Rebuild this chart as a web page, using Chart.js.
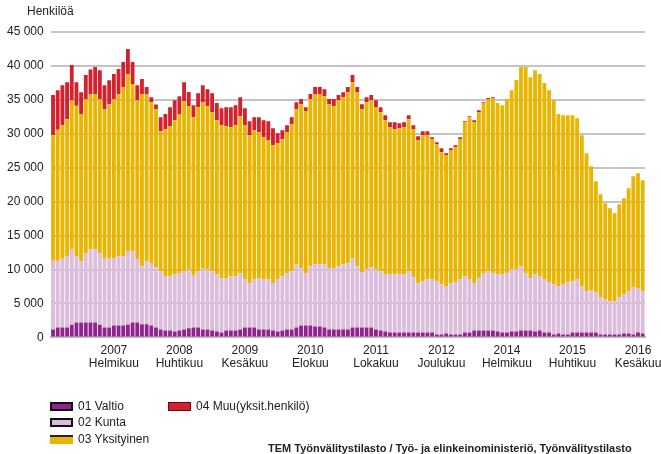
<!DOCTYPE html>
<html>
<head>
<meta charset="utf-8">
<script src="https://cdn.jsdelivr.net/npm/chart.js@4.4.1/dist/chart.umd.min.js"></script>
<style>
  body { margin: 0; background: #fff; font-family: "Liberation Sans", Arial, sans-serif; color: #222; }
  #wrap { position: relative; width: 661px; height: 454px; }
  #myChart { position: absolute; left: 0; top: 0; }
  .unit { position: absolute; left: 27px; top: 4px; font-size: 12px; }
  .leg { position: absolute; font-size: 12px; line-height: 14px; white-space: nowrap; }
  .leg i { display: inline-block; box-sizing: border-box; width: 23px; height: 9px; vertical-align: -1px; margin-right: 5px; }
  .source { position: absolute; left: 268px; top: 442px; font-size: 11px; font-weight: bold; white-space: nowrap; }
</style>
</head>
<body>
<div id="wrap">
  <canvas id="myChart" width="661" height="454"></canvas>
  <div class="unit">Henkilöä</div>
  <div class="leg" style="left:50px;top:399px"><i style="background:#8e248c;border:2px solid #111"></i>01 Valtio</div>
  <div class="leg" style="left:50px;top:415px"><i style="background:#dcbddc;border:2px solid #111"></i>02 Kunta</div>
  <div class="leg" style="left:50px;top:432px"><i style="background:#e9b500;border-top:2px solid #222"></i>03 Yksityinen</div>
  <div class="leg" style="left:168px;top:399px"><i style="background:#d3212d;border:1.5px solid #5a1010"></i>04 Muu(yksit.henkilö)</div>
  <div class="source">TEM Työnvälitystilasto / Työ- ja elinkeinoministeriö, Työnvälitystilasto</div>
</div>
<script>
// Kuukaudet tammikuu 2006 - heinäkuu 2016
const startYear = 2006;
const monthCount = 127;
const categories = [];
for (let i = 0; i < monthCount; i++) {
  categories.push((startYear + Math.floor(i / 12)) + '-' + String(i % 12 + 1).padStart(2, '0'));
}

// x-akselin tekstit
const tickIndex = [13, 27, 41, 55, 69, 83, 97, 111, 125];
const tickYears = ['2007', '2008', '2009', '2010', '2011', '2012', '2014', '2015', '2016'];
const tickMonths = ['Helmikuu', 'Huhtikuu', 'Kesäkuu', 'Elokuu', 'Lokakuu', 'Joulukuu', 'Helmikuu', 'Huhtikuu', 'Kesäkuu'];

// y-akseli
const yMax = 45000;
const yStep = 5000;

// Sarjat (henkilöä)
const valtio = [
  1180, 1475, 1475, 1475, 1870, 2210, 2210, 2210, 2210, 2210, 1870, 1475, 1475, 1770, 1770, 1770, 1870, 2210, 2210, 1920, 1920, 1770, 1475, 1180, 1030, 1030, 885, 1030, 1180, 1330,
  1475, 1475, 1180, 1180, 1030, 885, 740, 1030, 1030, 1030,
  1180, 1475, 1475, 1475, 1180, 1180, 1180, 1030, 885, 1030,
  1180, 1180, 1475, 1770, 1770, 1770, 1620, 1620, 1475, 1180,
  1180, 1180, 1180, 1180, 1475, 1475, 1475, 1475, 1475, 1180,
  1030, 885, 740, 740, 740, 740, 740, 740, 740, 740,
  740, 740, 440, 440, 590, 440, 440, 440, 740, 740,
  1030, 1030, 1030, 1030, 1030, 885, 740, 740, 885, 885,
  1030, 1030, 1030, 885, 1030, 740, 740, 440, 590, 440,
  440, 740, 740, 740, 740, 740, 740, 440, 440, 440,
  440, 440, 590, 590, 440, 740, 590
];
const kunta = [
  10120, 9825, 10125, 10475, 11110, 9740, 9000, 10180, 10770, 10770, 10520, 10125, 10175, 9880, 10180, 10180, 10820, 10480, 9290, 8550, 9290, 9150, 8855, 8555, 7970, 7970, 8405, 8410, 8555, 8670,
  7625, 8260, 8950, 8850, 8705, 8405, 7960, 7670, 7970, 7970,
  8260, 7085, 6490, 7085, 7520, 7380, 7380, 6935, 7675, 7970,
  8260, 8555, 9295, 8410, 7670, 8700, 9150, 9150, 9295, 9000,
  9000, 9290, 9590, 9740, 10175, 8995, 8115, 8555, 8855, 8850,
  8705, 8405, 8550, 8550, 8550, 8550, 8995, 8110, 7225, 7520,
  7820, 7820, 7820, 7380, 6935, 7525, 7670, 8120, 8260, 7820,
  6935, 7670, 8410, 8705, 8410, 8405, 8550, 8700, 9145, 9145,
  9440, 8410, 7670, 8405, 7970, 7820, 7370, 7380, 6935, 7380,
  7670, 7520, 7820, 6785, 6050, 6190, 5900, 5460, 5160, 4870,
  4870, 5460, 5750, 6200, 6940, 6490, 6200
];
const yksityinen = [
  18500, 19280, 19670, 20210, 21980, 22170, 21690, 22710, 22870, 22870, 22710, 22030, 22720, 23450, 23900, 24930, 26110, 24630, 23460, 25380, 24640, 23740, 23300, 20655, 21680, 22120, 22720, 23460, 25075, 24100,
  23350, 24195, 24530, 24040, 23455, 22720, 22570, 22420, 21980, 22270,
  23160, 22710, 21835, 21970, 21540, 20940, 20500, 20355, 20060, 20210,
  20800, 21685, 22860, 24190, 23900, 24640, 25080, 25080, 24780, 24190,
  23890, 24490, 24630, 25220, 25970, 25670, 24040, 24630, 24630, 23900,
  23455, 22720, 21690, 21390, 21540, 21690, 22425, 21830, 21095, 21540,
  21240, 20650, 20210, 19470, 19325, 19625, 19920, 20650, 22710, 23890,
  23745, 24490, 25080, 25375, 25820, 25230, 24930, 25670, 26400, 27880,
  29360, 30390, 29650, 30090, 29800, 28910, 28320, 27140, 25375, 24930,
  24640, 24490, 23740, 22275, 20350, 18290, 16370, 15190, 14170, 13720,
  12980, 13720, 14160, 15190, 16370, 16960, 16370
];
const muu = [
  5900, 5850, 5900, 5440, 5160, 3480, 3240, 3550, 3630, 3980, 4280, 3540, 3530, 3700, 3680, 3690, 3680, 3250, 2210, 2210, 1030, 740, 690, 2060, 2220, 2810, 2950, 2650, 2790, 2060,
  1770, 2060, 2510, 2510, 2800, 2510, 2510, 2810, 2950, 2950,
  2800, 2510, 2060, 1920, 2210, 2510, 2800, 2510, 1470, 1320,
  1030, 1030, 1030, 740, 590, 740, 1030, 1030, 1030, 740,
  1040, 740, 740, 740, 1030, 740, 740, 740, 740, 1030,
  740, 740, 730, 1030, 740, 730, 590, 590, 590, 590,
  590, 290, 290, 590, 290, 290, 290, 290, 150, 150,
  300, 290, 140, 150, 140, 0, 0, 0, 0, 0,
  0, 0, 0, 0, 0, 0, 0, 0, 0, 0,
  0, 0, 0, 0, 0, 0, 0, 0, 0, 0,
  0, 0, 0, 0, 0, 0, 0
];

const FONT = "'Liberation Sans', Arial, sans-serif";

function barSet(label, data, color) {
  return {
    label,
    data,
    backgroundColor: color,
    borderWidth: 0,
    barPercentage: 1,
    categoryPercentage: 0.82
  };
}

const ctx = document.getElementById('myChart').getContext('2d');
const chart = new Chart(ctx, {
  type: 'bar',
  data: {
    labels: categories,
    datasets: [
      barSet('01 Valtio', valtio, '#8e248c'),
      barSet('02 Kunta', kunta, '#dcbddc'),
      barSet('03 Yksityinen', yksityinen, '#e9b500'),
      barSet('04 Muu(yksit.henkilö)', muu, '#d3212d')
    ]
  },
  options: {
    responsive: false,
    animation: false,
    layout: { padding: { top: 32, left: 0, right: 16, bottom: 85 } },
    plugins: {
      legend: { display: false },
      tooltip: { enabled: false }
    },
    scales: {
      x: {
        stacked: true,
        grid: { display: false },
        border: { display: true, color: '#bdbdbd', width: 2 },
        ticks: {
          autoSkip: false,
          maxRotation: 0,
          padding: -2,
          color: '#222',
          font: { family: FONT, size: 12, lineHeight: 1.15 },
          callback: function (val, i) {
            const k = tickIndex.indexOf(i);
            return k >= 0 ? [tickYears[k], tickMonths[k]] : '';
          }
        }
      },
      y: {
        stacked: true,
        min: 0,
        max: yMax,
        grid: { color: '#c4c4c4', lineWidth: 2, drawTicks: false },
        border: { display: false },
        ticks: {
          stepSize: yStep,
          padding: 7,
          color: '#222',
          font: { family: FONT, size: 12 },
          callback: v => v === 0 ? '0' : String(v).replace(/\B(?=(\d{3})+(?!\d))/g, ' ')
        }
      }
    }
  }
});
</script>
</body>
</html>
